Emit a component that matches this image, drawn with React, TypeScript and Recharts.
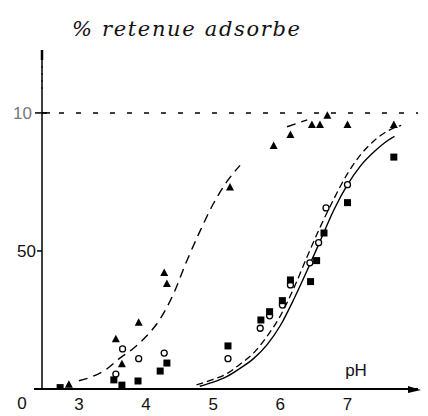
import React from 'react';
import { ComposedChart, XAxis, YAxis, Line, Scatter, ReferenceLine, Customized } from 'recharts';

const xTicks = [3, 4, 5, 6, 7];
const yTicks = [50, 100];
const yTickLabels: Record<number, string> = { 50: '50', 100: '10' };
const titleText = '% retenue adsorbe';
const xAxisName = 'pH';

// filled triangles (pH, % adsorbed)
const triX = [2.85, 3.55, 3.64, 3.89, 4.27, 4.31, 5.25, 5.9, 6.15, 6.47, 6.59, 6.7, 7.0, 7.69];
const triY = [1.5, 18, 9, 24, 42, 38, 73, 88, 92, 95.6, 95.6, 99, 95.6, 95.6];

// open circles
const circX = [3.55, 3.65, 3.89, 4.27, 5.22, 5.7, 5.84, 6.03, 6.15, 6.44, 6.57, 6.68, 7.0];
const circY = [5.4, 14.5, 11, 13, 11, 22, 26.5, 30.4, 37.7, 45.7, 53, 65.6, 74];

// filled squares
const sqX = [2.72, 3.52, 3.64, 3.88, 4.21, 4.31, 5.22, 5.71, 5.84, 6.03, 6.15, 6.45, 6.54, 6.65, 7.0, 7.69];
const sqY = [0.5, 3.3, 1.4, 2.9, 6.5, 9.4, 15.6, 25, 28, 32, 39.5, 38.9, 46.5, 56.5, 67.5, 84];

// dashed curve (triangles)
const leftCurveX = [3.0, 3.2, 3.4, 3.6, 3.8, 4.0, 4.2, 4.4, 4.6, 4.8, 5.0, 5.2, 5.4, 5.5, 6.1, 6.4];
const leftCurveY: (number | null)[] = [3, 4.5, 7, 11, 14.5, 19, 25, 34, 46, 57, 67, 75, 81, null, 95, 97.5];

// solid right curve
const solidX = [4.8, 5.0, 5.2, 5.4, 5.6, 5.8, 6.0, 6.2, 6.4, 6.6, 6.8, 7.0, 7.2, 7.4, 7.6, 7.7];
const solidY = [1, 2.5, 4.5, 7.5, 11, 16, 23, 32.5, 43, 54, 65, 74, 81, 86, 90, 91.5];

// dashed right curve
const dashX = [4.75, 5.0, 5.2, 5.4, 5.6, 5.8, 6.0, 6.2, 6.4, 6.6, 6.8, 7.0, 7.2, 7.4, 7.6, 7.8];
const dashY = [1.5, 3.5, 5.5, 9, 13, 19, 26.5, 36.5, 48, 59, 69, 78, 85, 90, 93.5, 95.5];

const zip = (xs: number[], ys: (number | null)[]) => xs.map((x, i) => ({ x, y: ys[i] }));

const triangles = zip(triX, triY);
const circles = zip(circX, circY);
const squares = zip(sqX, sqY);
const leftCurve = zip(leftCurveX, leftCurveY);
const solidCurve = zip(solidX, solidY);
const dashCurve = zip(dashX, dashY);

const FONT = 'Liberation Sans, Arial, sans-serif';

const Tri = (p: any) => (
  <polygon points={`${p.cx},${p.cy - 4.5} ${p.cx - 4},${p.cy + 3} ${p.cx + 4},${p.cy + 3}`} fill="#000" />
);
const Sq = (p: any) => <rect x={p.cx - 3.5} y={p.cy - 3.5} width={7} height={7} fill="#000" />;
const Circ = (p: any) => <circle cx={p.cx} cy={p.cy} r={3} fill="#fff" stroke="#000" strokeWidth={1.3} />;

const XTick = (p: any) => (
  <text x={p.x} y={410} textAnchor="middle" fontSize={17} fontFamily={FONT} fill="#111">
    {p.payload.value}
  </text>
);

const YTick = (p: any) => {
  const v = p.payload.value;
  return (
    <g>
      <line x1={v === 100 ? 35 : 37} x2={v === 100 ? 50 : 42} y1={p.y} y2={p.y} stroke="#000" strokeWidth={1.5} />
      <text x={v === 100 ? 32 : 36} y={p.y + 6} textAnchor="end" fontSize={17} fontFamily={FONT}
        fill={v === 100 ? '#777' : '#111'}>
        {yTickLabels[v]}
      </text>
    </g>
  );
};

const Decor = () => (
  <g>
    <text x={72} y={36} fontSize={21} fontStyle="italic" fontFamily="DejaVu Serif, serif" fill="#111"
      textLength={228} lengthAdjust="spacing">{titleText}</text>
    <text x={22} y={409} textAnchor="middle" fontSize={17} fontFamily={FONT} fill="#111">0</text>
    <text x={356} y={376} textAnchor="middle" fontSize={17} fontFamily={FONT} fill="#111">{xAxisName}</text>
    <line x1={34} x2={42} y1={389} y2={389} stroke="#000" strokeWidth={2} />
    <polygon points="408,386 421,390 408,393" fill="#000" />
    <line x1={42} x2={42} y1={50} y2={64} stroke="#000" strokeWidth={2.5} />
    <rect x={36} y={60} width={14} height={32} fill="#fff" />
    <line x1={42} x2={42} y1={66} y2={92} stroke="#000" strokeWidth={1} strokeDasharray="2 5" />
  </g>
);

export default function App() {
  return (
    <div style={{ position: 'absolute', left: 0, top: 0, background: '#fff' }}>
      <ComposedChart width={428} height={416} margin={{ top: 53, right: 10, bottom: 0, left: 0 }}>
        <XAxis dataKey="x" type="number" domain={[2.45, 8.05]} ticks={xTicks} allowDataOverflow
          axisLine={{ stroke: '#000', strokeWidth: 2 }} tickLine={false} tick={<XTick />} height={27} />
        <YAxis dataKey="y" type="number" domain={[0, 121.7]} ticks={yTicks} allowDataOverflow width={42}
          axisLine={{ stroke: '#000', strokeWidth: 1.5 }} tickLine={false} tick={<YTick />} />
        <ReferenceLine y={100} stroke="#000" strokeWidth={1.5} strokeDasharray="5 12" />
        <Line data={leftCurve} dataKey="y" type="monotone" stroke="#000" strokeWidth={1.4}
          strokeDasharray="9 6" dot={false} isAnimationActive={false} connectNulls={false} />
        <Line data={solidCurve} dataKey="y" type="monotone" stroke="#000" strokeWidth={1.4}
          dot={false} isAnimationActive={false} />
        <Line data={dashCurve} dataKey="y" type="monotone" stroke="#000" strokeWidth={1.3}
          strokeDasharray="7 4" dot={false} isAnimationActive={false} />
        <Scatter data={triangles} dataKey="y" shape={Tri} isAnimationActive={false} />
        <Scatter data={circles} dataKey="y" shape={Circ} isAnimationActive={false} />
        <Scatter data={squares} dataKey="y" shape={Sq} isAnimationActive={false} />
        <Customized component={Decor} />
      </ComposedChart>
    </div>
  );
}
